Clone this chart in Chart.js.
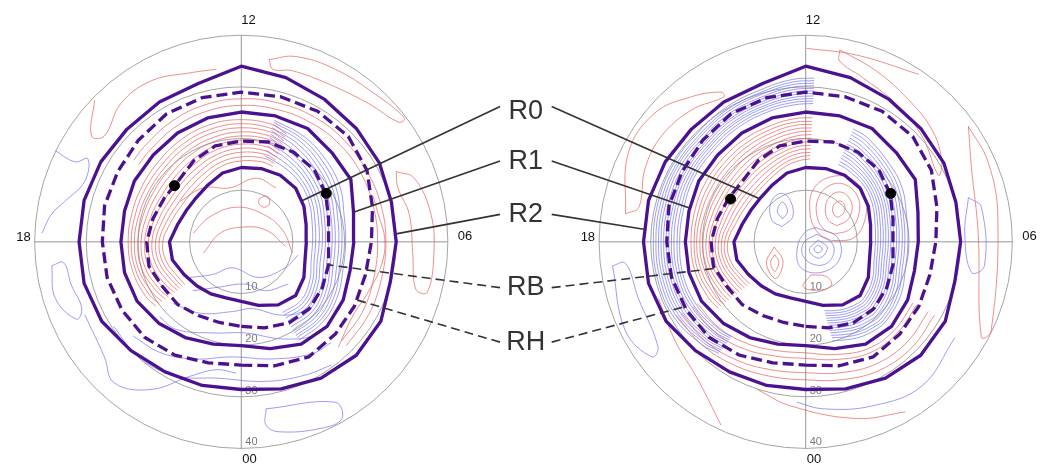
<!DOCTYPE html>
<html>
<head>
<meta charset="utf-8">
<script src="https://cdn.jsdelivr.net/npm/chart.js@4.4.1/dist/chart.umd.min.js"></script>
<style>
  body { margin: 0; background: #fff; }
  #wrap { width: 1045px; height: 471px; }
</style>
</head>
<body>
<div id="wrap"><canvas id="dial" width="1045" height="471"></canvas></div>
<script>
// boundary colatitude (deg) at each MLT hour 0..23
const mltHours = [0,1,2,3,4,5,6,7,8,9,10,11,12,13,14,15,16,17,18,19,20,21,22,23];
const boundR0 = [11.7,12.9,14.3,14.9,14.0,12.8,12.6,13.0,14.0,14.9,15.1,14.9,14.6,14.0,12.9,12.3,12.3,12.8,13.9,13.8,12.8,12.2,11.8,11.4];
const boundRB = [16.6,17.5,18.4,18.6,18.1,17.5,16.9,17.5,18.9,20.0,20.3,20.3,19.8,19.5,18.4,17.1,17.2,17.7,18.3,18.5,17.6,17.4,16.7,16.4];
const boundR1 = [20.4,21.7,23.2,23.5,22.8,21.8,21.8,22.5,24.5,24.8,25.7,25.6,25.5,25.2,24.7,24.1,23.9,23.4,23.3,23.4,23.3,22.6,21.7,20.8];
const boundRH = [24.2,25.2,26.1,25.7,25.3,24.9,25.2,26.3,28.1,29.3,29.6,29.5,29.4,29.3,29.0,28.2,27.6,27.4,26.9,26.9,26.7,26.5,25.7,24.6];
const boundR2 = [29.0,29.9,30.9,31.5,31.2,29.9,30.0,30.1,30.9,31.5,32.3,33.4,34.5,32.2,31.7,31.3,31.4,31.5,31.4,31.5,31.2,30.2,29.5,29.2];

const ringValues = [10, 20, 30, 40];
const mltTicks = ['12', '06', '00', '18'];
const calloutNames = ['R0', 'R1', 'R2', 'RB', 'RH'];

// black dots [MLT, colat]
const dotsLeft = [[15.3, 17.0], [8.0, 19.0]];
const dotsRight = [[16.0, 16.8], [8.0, 19.0]];

// where each callout line touches its boundary (MLT)
const calloutMltLeft = [8.3, 7.0, 6.2, 5.0, 4.2];
const calloutMltRight = [15.1, 16.9, 17.7, 19.1, 19.9];

// contour lines, left panel
const leftRedDuskMlt = [20.5,20,19,18,17,16,15,14,13,12,11,10.5];
const leftRedDusk = [
  [13.8,14.0,15.0,15.2,14.2,13.6,13.6,14.2,15.3,15.9,16.2,16.0],
  [14.4,14.7,15.7,15.9,15.0,14.4,14.5,15.1,16.1,16.7,17.0,16.7],
  [15.0,15.4,16.4,16.6,15.8,15.3,15.4,16.0,17.0,17.6,17.8,17.4],
  [15.6,16.1,17.1,17.3,16.6,16.1,16.3,16.9,17.8,18.4,18.5,18.0],
  [16.3,16.9,17.9,18.0,17.4,17.0,17.2,17.8,18.7,19.2,19.3,18.7],
  [17.0,17.6,18.6,18.7,18.2,17.9,18.1,18.7,19.5,20.0,20.0,19.4],
  [17.8,18.4,19.3,19.4,19.0,18.8,19.0,19.7,20.4,20.8,20.8,20.1],
  [18.5,19.1,20.0,20.0,19.7,19.6,19.9,20.6,21.2,21.6,21.5,20.8],
  [19.3,19.9,20.6,20.7,20.5,20.5,20.8,21.5,22.1,22.4,22.3,21.5],
  [20.0,20.6,21.2,21.3,21.2,21.3,21.6,22.3,22.9,23.2,23.0,22.2],
  [20.8,21.4,21.8,21.9,21.9,22.1,22.5,23.2,23.8,24.0,23.8,22.9]
];
const leftRedTopMlt = [15.5,15,14,13,12,11,10,9,8,7,6,5,4,3];
const leftRedTop = [
  [25.0,25.2,25.9,26.5,26.8,26.9,27.0,27.0,26.8,26.5,26.4,26.6,27.2,27.5],
  [26.3,26.5,27.2,27.8,28.1,28.2,28.3,28.2,28.0,28.0,28.0,28.1,28.5,28.8]
];
const leftBlueDawnMlt = [11,10,9,8,7,6,5,4,3,2];
const leftBlueDawn = [
  [17.5,16.8,16.2,15.2,14.2,13.8,14.0,15.3,16.3,16.0],
  [18.5,17.6,16.8,15.8,14.8,14.4,14.6,15.9,16.9,16.6],
  [19.5,18.4,17.5,16.5,15.5,15.1,15.2,16.5,17.5,17.3],
  [20.3,19.1,18.1,17.1,16.1,15.7,15.8,17.1,18.1,18.0],
  [21.2,19.9,18.8,17.8,16.7,16.3,16.5,17.8,18.8,18.7],
  [21.9,20.6,19.5,18.4,17.3,16.9,17.1,18.4,19.4,19.3],
  [22.6,21.4,20.2,19.1,18.0,17.6,17.8,19.0,20.0,20.0],
  [23.2,22.1,20.9,19.8,18.6,18.2,18.4,19.6,20.6,20.6],
  [23.8,22.8,21.6,20.5,19.3,18.9,19.1,20.3,21.2,21.2],
  [24.3,23.4,22.3,21.2,19.9,19.5,19.7,20.9,21.7,21.7],
  [24.7,24.0,23.0,22.0,20.6,20.2,20.4,21.5,22.3,22.3]
];
// [x toward 06, y toward 12] in degrees
const leftRedXY = [
  [[5.4,35.8],[10.5,36.4],[18.2,33.9],[25.8,29.1],[31.6,24.3],[30.5,23.5],[24.6,27.2],[16.9,31.0],[9.9,33.6],[6.1,33.9],[5.4,35.8]],
  [[30.0,13.8],[33.5,12.5],[36.7,5.5],[37.3,-2.2],[36.0,-9.9],[33.8,-9.3],[33.2,-2.2],[32.5,5.5],[30.3,10.7],[30.0,13.8]],
  [[25.5,9.0],[26.5,5.5],[27.8,0.4],[27.1,-4.7],[24.6,-9.8],[21.4,-14.9],[18.8,-20.7]],
  [[-28.4,27.8],[-29.0,20.8],[-26.5,20.8],[-23.3,27.2],[-17.5,31.6],[-9.9,33.2],[-4.8,33.9]],
  [[-9.3,1.7],[-6.1,4.9],[-1.0,6.8],[4.1,5.5],[8.0,2.3],[9.9,-2.2]],
  [[-7.3,-2.2],[-4.1,1.7],[0.3,2.9],[4.8,2.3],[8.6,-0.9]],
  [[-11.8,8.0],[-7.3,10.6],[-2.2,10.6],[2.9,12.5],[6.7,10.6]],
  [[3.5,8.5],[5.0,9.0],[5.5,7.5],[4.5,6.8],[3.4,7.5],[3.5,8.5]]
];
const leftBlueXY = [
  [[-36.0,17.9],[-32.2,15.7],[-29.7,16.3],[-30.3,11.9],[-34.1,8.0],[-36.7,5.5],[-38.6,1.7]],
  [[-36.7,-4.7],[-36.0,-11.1],[-31.9,-15.2],[-30.9,-13.0],[-32.9,-8.5],[-34.4,-4.1],[-36.7,-4.7]],
  [[4.8,-32.8],[18.2,-31.5],[19.5,-34.7],[15.6,-36.6],[7.3,-37.3],[4.8,-36.0],[4.8,-32.8]],
  [[-30.3,-14.3],[-26.5,-22.6],[-24.6,-27.7],[-17.5,-29.0],[-9.9,-26.4],[-4.8,-25.1],[-1.0,-25.8]],
  [[-10.0,-7.0],[-5.5,-6.4],[-1.7,-5.1],[3.4,-7.0],[8.5,-5.1],[11.0,-2.6]],
  [[-9.4,-9.6],[-4.3,-8.9],[0.8,-8.3],[4.7,-9.6],[9.1,-8.3]],
  [[-13.2,-12.1],[-8.1,-14.0],[-1.7,-13.7],[2.1,-13.1],[7.8,-14.4],[12.3,-13.4],[14.9,-10.2]],
  [[-15.8,-14.7],[-12.6,-17.2],[-5.5,-17.9],[0.8,-17.9],[8.5,-19.1],[14.9,-17.9],[19.3,-12.8]],
  [[-20.9,-18.5],[-15.8,-21.7],[-9.4,-23.0],[-1.7,-22.6],[5.9,-23.0],[13.6,-22.0],[17.4,-19.8]],
  [[-24.7,-16.6],[-20.2,-22.3],[-13.2,-26.2],[-4.3,-26.8],[4.7,-27.4],[12.3,-26.2],[17.4,-24.2]]
];

// contour lines, right panel
const rightBlueDuskMlt = [21.5,21,20,19,18,17,16,15,14,13,12.3,11.8];
const rightBlueDusk = [
  [23.5,24.0,24.5,24.6,24.4,24.5,25.0,25.3,26.0,26.6,27.0,27.2],
  [23.9,24.4,25.0,25.1,24.9,25.0,25.5,25.8,26.5,27.1,27.5,27.7],
  [24.3,24.9,25.5,25.6,25.5,25.6,26.0,26.3,27.0,27.6,28.0,28.2],
  [24.7,25.3,26.0,26.1,26.0,26.1,26.5,26.7,27.4,28.0,28.5,28.7],
  [25.1,25.8,26.5,26.6,26.5,26.6,27.0,27.2,27.9,28.5,29.0,29.2],
  [25.5,26.2,27.0,27.1,27.0,27.1,27.4,27.6,28.3,28.9,29.5,29.7],
  [26.0,26.7,27.5,27.6,27.5,27.6,27.9,28.1,28.8,29.4,30.0,30.2],
  [26.4,27.1,28.0,28.1,28.0,28.1,28.4,28.5,29.2,29.8,30.5,30.7],
  [26.8,27.6,28.5,28.6,28.5,28.6,28.9,29.0,29.7,30.3,31.0,31.2],
  [27.2,28.0,29.0,29.1,29.0,29.1,29.3,29.4,30.1,30.7,31.5,31.7],
  [27.6,28.5,29.5,29.6,29.5,29.6,29.8,29.9,30.6,31.2,32.0,32.2]
];
const rightRedDuskMlt = [20.5,20,19,18,17,16,15,14,13,12.3,11.8];
const rightRedDusk = [
  [13.6,14.0,15.0,15.1,14.0,13.5,13.5,14.1,15.3,16.0,16.3],
  [14.2,14.6,15.6,15.7,14.7,14.2,14.2,14.8,16.0,16.7,17.0],
  [14.9,15.3,16.2,16.3,15.4,15.0,15.0,15.6,16.7,17.4,17.6],
  [15.5,15.9,16.8,16.9,16.1,15.7,15.8,16.4,17.4,18.1,18.3],
  [16.2,16.6,17.4,17.5,16.8,16.5,16.6,17.2,18.1,18.8,19.0],
  [16.8,17.2,18.0,18.1,17.5,17.2,17.4,18.0,18.8,19.5,19.7],
  [17.5,17.9,18.6,18.7,18.2,18.0,18.2,18.8,19.6,20.2,20.4],
  [18.1,18.5,19.2,19.3,18.9,18.7,19.0,19.6,20.3,20.9,21.1],
  [18.8,19.2,19.8,19.9,19.6,19.5,19.8,20.4,21.1,21.6,21.8],
  [19.4,19.8,20.4,20.5,20.3,20.3,20.6,21.1,21.8,22.3,22.4],
  [20.1,20.5,21.0,21.1,21.0,21.1,21.4,21.9,22.5,23.0,23.1],
  [20.7,21.1,21.6,21.6,21.6,21.8,22.1,22.6,23.2,23.6,23.7],
  [21.4,21.8,22.2,22.2,22.3,22.6,22.9,23.4,23.9,24.3,24.4]
];
const rightBlueDawnMlt = [10.5,10,9,8,7,6,5,4,3,2.5,2,1.5,1];
const rightBlueDawn = [
  [16.5,16.3,15.8,14.9,13.9,13.5,13.7,14.9,15.8,15.6,15.2,14.6,14.0],
  [17.1,16.9,16.3,15.4,14.4,14.0,14.2,15.4,16.3,16.1,15.7,15.1,14.5],
  [17.8,17.5,16.8,15.9,14.9,14.5,14.7,15.9,16.8,16.6,16.2,15.6,15.0],
  [18.4,18.1,17.3,16.4,15.4,15.0,15.2,16.4,17.3,17.1,16.7,16.1,15.5],
  [19.0,18.7,17.8,16.9,15.9,15.5,15.7,16.9,17.8,17.6,17.2,16.6,16.0],
  [19.6,19.3,18.3,17.4,16.4,16.0,16.2,17.4,18.3,18.1,17.7,17.1,16.5],
  [20.2,19.9,18.9,17.9,16.9,16.5,16.7,17.9,18.8,18.6,18.2,17.6,17.0],
  [20.8,20.5,19.4,18.4,17.4,17.0,17.2,18.4,19.3,19.1,18.7,18.1,17.5],
  [21.5,21.1,20.0,19.0,18.0,17.6,17.8,19.0,19.9,19.7,19.3,18.6,18.0],
  [22.1,21.7,20.6,19.6,18.5,18.1,18.3,19.5,20.4,20.2,19.8,19.1,18.5],
  [22.8,22.4,21.2,20.2,19.1,18.7,18.9,20.1,21.0,20.8,20.4,19.7,19.0],
  [23.4,23.0,21.8,20.8,19.6,19.2,19.4,20.6,21.5,21.3,20.9,20.2,19.5],
  [24.0,23.7,22.4,21.5,20.2,19.8,20.0,21.2,22.0,21.9,21.5,20.8,20.1]
];
const rightRedBottomMlt = [20,21,22,23,0,1,2,3,4];
const rightRedBottom = [
  [24.2,23.8,23.0,22.1,21.8,22.9,24.2,24.4,24.0],
  [25.3,25.0,24.2,23.2,22.9,23.9,25.1,25.2,24.8],
  [27.8,27.5,26.8,26.0,25.7,26.6,27.6,27.8,27.4],
  [28.9,28.5,27.9,27.3,27.1,28.0,29.0,29.2,28.8]
];
const rightRedXY = [
  [[6.3,4.8],[7.3,5.6],[7.6,7.0],[6.8,8.0],[5.7,7.6],[5.2,6.4],[5.6,5.2],[6.3,4.8]],
  [[6.0,3.2],[8.0,4.2],[9.0,6.5],[8.3,8.8],[6.5,9.8],[4.6,8.8],[3.8,6.5],[4.4,4.2],[6.0,3.2]],
  [[5.5,1.5],[8.6,2.5],[10.3,5.5],[10.0,9.0],[7.5,11.3],[4.5,11.0],[2.4,8.5],[2.2,5.0],[3.5,2.5],[5.5,1.5]],
  [[5.0,0.2],[9.3,0.8],[11.5,4.5],[11.4,9.0],[9.0,12.3],[5.0,12.8],[1.6,10.5],[0.8,6.0],[2.2,2.0],[5.0,0.2]],
  [[-6.0,-2.5],[-5.2,-4.0],[-6.0,-5.8],[-6.8,-4.0],[-6.0,-2.5]],
  [[-6.1,-1.0],[-4.4,-3.8],[-5.8,-7.2],[-7.6,-4.2],[-6.1,-1.0]],
  [[1.0,-6.5],[4.0,-6.8],[5.0,-8.5],[2.5,-9.5],[-0.5,-8.8],[1.0,-6.5]],
  [[-34.9,5.5],[-34.3,17.6],[-29.2,25.3],[-22.1,28.5],[-16.4,29.4],[-15.8,28.5],[-22.1,25.9],[-27.9,20.8],[-31.1,14.4],[-32.3,6.8],[-34.9,5.5]],
  [[-28.5,-11.1],[-25.3,-19.4],[-20.9,-27.0],[-16.4,-36.0]],
  [[-9.4,-29.0],[-3.0,-32.2],[9.8,-34.7],[19.3,-33.4]],
  [[31.5,22.7],[35.3,15.7],[37.2,4.8],[35.9,-17.5],[34.0,-18.7],[33.4,1.6],[32.1,14.5],[31.5,22.7]],
  [[6.6,37.7],[13.6,33.6],[20.0,27.8],[24.4,22.1],[26.3,16.3],[25.7,13.1],[22.5,20.8],[17.4,27.2],[11.0,32.3],[6.6,35.5],[6.6,37.7]],
  [[0.2,38.0],[9.8,36.7],[21.9,32.9]]
];
const rightBlueXY = [
  [[2.4,-0.6],[3.2,-1.4],[2.4,-2.2],[1.6,-1.4],[2.4,-0.6]],
  [[2.4,0.4],[4.2,-1.2],[2.6,-3.2],[0.7,-1.6],[2.4,0.4]],
  [[2.2,1.5],[5.3,-0.6],[4.8,-3.6],[2.3,-4.6],[-0.4,-3.0],[-0.4,-0.2],[2.2,1.5]],
  [[2.0,2.8],[6.2,0.8],[6.5,-3.5],[3.0,-6.0],[-1.0,-5.0],[-1.6,-1.0],[0.0,2.0],[2.0,2.8]],
  [[-4.5,4.5],[-3.5,6.0],[-4.5,7.8],[-5.5,6.0],[-4.5,4.5]],
  [[-4.6,3.0],[-2.5,5.0],[-3.2,8.5],[-5.0,9.5],[-6.8,7.5],[-6.5,4.2],[-4.6,3.0]],
  [[-37.4,-4.7],[-34.9,-17.5],[-29.8,-22.6],[-28.6,-20.7],[-32.4,-11.1],[-34.9,-4.2],[-37.4,-4.7]],
  [[-1.7,-31.5],[3.4,-32.8],[13.0,-32.2],[22.5,-28.3],[28.9,-18.8]],
  [[31.5,8.7],[34.0,6.8],[34.6,-4.7],[32.1,-6.0],[30.8,1.5],[31.5,8.7]]
];

// layout (chart units = degrees of colatitude)
const panelX = [0, 109.28];
const xRange = [-45.55, 154.45];
const yRange = [-43.83, 46.32];
const calloutTextX = 55.1;
const calloutTextY = [25.6, 15.7, 5.4, -9.0, -19.7];
const calloutLineY = [26.6, 15.9, 5.4, -9.0, -19.7];
const calloutLeftX = 50.1;
const calloutRightX = 60.1;

const purple = '#4b1190';
const redLine = '#e4605c';
const blueLine = '#7272ee';

const boundaries = { R0: boundR0, R1: boundR1, R2: boundR2, RB: boundRB, RH: boundRH };
const dashed = { RB: true, RH: true };

function polar(cx, mlt, colat) {
  const a = mlt * Math.PI / 12;
  return { x: cx + colat * Math.sin(a), y: -colat * Math.cos(a) };
}

function colatAt(arr, mlt) {
  const i = Math.floor(mlt) % 24;
  const f = mlt - Math.floor(mlt);
  return arr[i] * (1 - f) + arr[(i + 1) % 24] * f;
}

function lineSet(points, color, width, dash, order, tension) {
  return {
    data: points, showLine: true, borderColor: color, borderWidth: width,
    borderDash: dash || [], pointRadius: 0, tension: tension || 0, order: order,
    borderJoinStyle: 'round', fill: false
  };
}

const datasets = [];

function addFamily(cx, mlts, lines, color) {
  lines.forEach(vals => {
    const pts = vals.map((c, i) => polar(cx, mlts[i], c));
    datasets.push(lineSet(pts, color, 0.7, null, 4, 0.4));
  });
}
function addXY(cx, lines, color) {
  lines.forEach(line => {
    const pts = line.map(p => ({ x: cx + p[0], y: p[1] }));
    datasets.push(lineSet(pts, color, 0.7, null, 4, 0.4));
  });
}

// left panel contours
addFamily(panelX[0], leftRedDuskMlt, leftRedDusk, redLine);
addFamily(panelX[0], leftRedTopMlt, leftRedTop, redLine);
addFamily(panelX[0], leftBlueDawnMlt, leftBlueDawn, blueLine);
addXY(panelX[0], leftRedXY, redLine);
addXY(panelX[0], leftBlueXY, blueLine);
// right panel contours
addFamily(panelX[1], rightBlueDuskMlt, rightBlueDusk, blueLine);
addFamily(panelX[1], rightRedDuskMlt, rightRedDusk, redLine);
addFamily(panelX[1], rightBlueDawnMlt, rightBlueDawn, blueLine);
addFamily(panelX[1], rightRedBottomMlt, rightRedBottom, redLine);
addXY(panelX[1], rightRedXY, redLine);
addXY(panelX[1], rightBlueXY, blueLine);

// boundaries, same on both panels
panelX.forEach(cx => {
  Object.keys(boundaries).forEach(name => {
    const arr = boundaries[name];
    const pts = mltHours.map(h => polar(cx, h, arr[h]));
    pts.push(pts[0]);
    datasets.push(lineSet(pts, purple, 3.3, dashed[name] ? [11, 5] : null, 2, 0));
  });
});

// callout lines
calloutNames.forEach((name, i) => {
  const arr = boundaries[name];
  const dash = dashed[name] ? [9, 5] : null;
  const tl = polar(panelX[0], calloutMltLeft[i], colatAt(arr, calloutMltLeft[i]));
  const tr = polar(panelX[1], calloutMltRight[i], colatAt(arr, calloutMltRight[i]));
  datasets.push(lineSet([{ x: calloutLeftX, y: calloutLineY[i] }, tl], '#333', 1.6, dash, 1, 0));
  datasets.push(lineSet([{ x: calloutRightX, y: calloutLineY[i] }, tr], '#333', 1.6, dash, 1, 0));
});

// dots
datasets.push({
  data: dotsLeft.map(d => polar(panelX[0], d[0], d[1]))
    .concat(dotsRight.map(d => polar(panelX[1], d[0], d[1]))),
  showLine: false, pointRadius: 5, pointBackgroundColor: '#000',
  pointBorderColor: '#000', order: 0
});

const dialPlugin = {
  id: 'dial',
  beforeDatasetsDraw(chart) {
    const { ctx, scales: { x, y } } = chart;
    const unit = x.getPixelForValue(1) - x.getPixelForValue(0);
    ctx.save();
    panelX.forEach(cx => {
      const px = x.getPixelForValue(cx), py = y.getPixelForValue(0);
      const R = ringValues[ringValues.length - 1] * unit;
      ctx.strokeStyle = '#9a9a9a';
      ctx.lineWidth = 0.9;
      ringValues.forEach(r => {
        ctx.beginPath();
        ctx.arc(px, py, r * unit, 0, Math.PI * 2);
        ctx.stroke();
      });
      ctx.strokeStyle = '#8a8a8a';
      ctx.beginPath();
      ctx.moveTo(px - R, py); ctx.lineTo(px + R, py);
      ctx.moveTo(px, py - R); ctx.lineTo(px, py + R);
      ctx.stroke();

      ctx.fillStyle = '#7a7a7a';
      ctx.font = '11px "Liberation Sans", Arial, sans-serif';
      ctx.textAlign = 'left';
      ctx.textBaseline = 'alphabetic';
      ringValues.forEach(r => ctx.fillText(String(r), px + 4, py + r * unit - 3));

      ctx.fillStyle = '#111';
      ctx.font = '13px "Liberation Sans", Arial, sans-serif';
      ctx.textBaseline = 'middle';
      ctx.textAlign = 'left';
      ctx.fillText(mltTicks[0], px, py - R - 15);
      ctx.fillText(mltTicks[2], px + 1, py + R + 11);
      ctx.fillText(mltTicks[1], px + R + 10, py - 5);
      ctx.textAlign = 'right';
      ctx.fillText(mltTicks[3], px - R - 4, py - 4);
    });
    ctx.restore();
  },
  afterDatasetsDraw(chart) {
    const { ctx, scales: { x, y } } = chart;
    ctx.save();
    ctx.fillStyle = '#333';
    ctx.font = '27px "Liberation Sans", Arial, sans-serif';
    ctx.textAlign = 'center';
    ctx.textBaseline = 'middle';
    calloutNames.forEach((name, i) => {
      ctx.fillText(name, x.getPixelForValue(calloutTextX), y.getPixelForValue(calloutTextY[i]));
    });
    ctx.restore();
  }
};

new Chart(document.getElementById('dial'), {
  type: 'scatter',
  data: { datasets: datasets },
  options: {
    responsive: false,
    animation: false,
    devicePixelRatio: 1,
    layout: { padding: 0 },
    plugins: { legend: { display: false }, tooltip: { enabled: false } },
    scales: {
      x: { type: 'linear', display: false, min: xRange[0], max: xRange[1] },
      y: { type: 'linear', display: false, min: yRange[0], max: yRange[1] }
    }
  },
  plugins: [dialPlugin]
});
</script>
</body>
</html>
